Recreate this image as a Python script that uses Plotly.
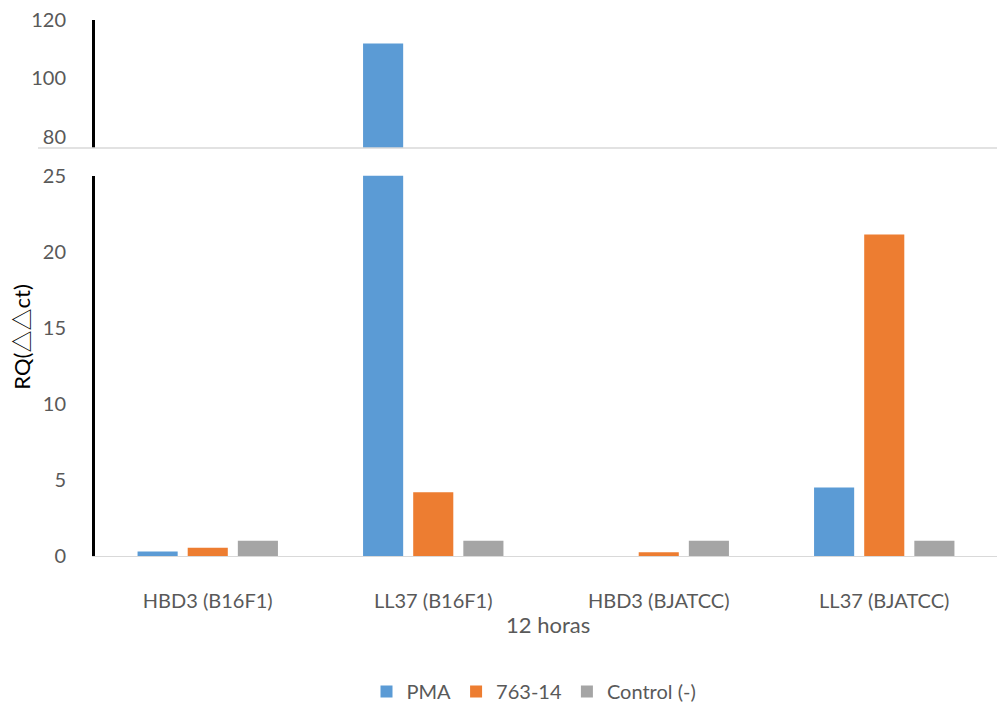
import plotly.graph_objects as go

categories = ["HBD3 (B16F1)", "LL37 (B16F1)", "HBD3 (BJATCC)", "LL37 (BJATCC)"]
pma = [0.3, 112.0, 0.0, 4.5]
c763 = [0.55, 4.2, 0.25, 21.15]
control = [1.0, 1.0, 1.0, 1.0]

series = [("PMA", pma, "#5B9BD5"), ("763-14", c763, "#ED7D31"), ("Control (-)", control, "#A5A5A5")]

W, H = 997, 711
ML, MR, MT, MB = 95, 0, 20, 151
ph = H - MT - MB

def py(pix):
    return (H - MB - pix) / ph

FONT = "Lato"
GRAY = "#595959"

fig = go.Figure()
for name, vals, col in series:
    fig.add_trace(go.Bar(x=categories, y=vals, name=name, marker=dict(color=col, line=dict(width=0)),
                         xaxis="x", yaxis="y", showlegend=True))
for name, vals, col in series:
    fig.add_trace(go.Bar(x=categories, y=vals, name=name, marker=dict(color=col, line=dict(width=0)),
                         xaxis="x2", yaxis="y2", showlegend=False))

fig.update_layout(
    width=W, height=H,
    margin=dict(l=ML, r=MR, t=MT, b=MB),
    paper_bgcolor="white", plot_bgcolor="white",
    barmode="group", bargap=0.333, bargroupgap=0.2,
    font=dict(family=FONT, color=GRAY, size=19),
    xaxis=dict(domain=[0, 1], anchor="y", showline=True, linecolor="#D9D9D9", linewidth=1,
               showgrid=False, zeroline=False, ticks="", tickfont=dict(size=20, color=GRAY, family=FONT),
               ticklabelstandoff=27),
    xaxis2=dict(domain=[0, 1], anchor="y2", matches="x", showline=False, showgrid=False,
                zeroline=False, showticklabels=False, ticks=""),
    yaxis=dict(domain=[0, py(177)], range=[0, 25], tickvals=[0, 5, 10, 15, 20, 25],
               showline=True, linecolor="black", linewidth=3, showgrid=False, zeroline=False,
               ticks="", tickfont=dict(size=20, color=GRAY, family=FONT), ticklabelstandoff=22),
    yaxis2=dict(domain=[py(149), 1], range=[76.2, 120], tickvals=[80, 100, 120],
                showline=True, linecolor="black", linewidth=3, showgrid=False, zeroline=False,
                ticks="", tickfont=dict(size=20, color=GRAY, family=FONT), ticklabelstandoff=22),
    legend=dict(orientation="h", x=(534 - ML) / (W - ML - MR), xanchor="center", y=py(697), yanchor="middle",
                font=dict(size=20, color=GRAY, family=FONT), itemwidth=30, traceorder="normal"),
    shapes=[dict(type="line", xref="paper", yref="paper", x0=(38 - ML) / (W - ML - MR), x1=1,
                 y0=py(149), y1=py(149), line=dict(color="#D9D9D9", width=1.5))],
    annotations=[
        dict(text="12 horas", xref="paper", yref="paper", x=(548 - ML) / (W - ML - MR), y=py(629), showarrow=False,
             xanchor="center", yanchor="middle", font=dict(size=22, color=GRAY, family=FONT)),
        dict(text="RQ(△△ct)", xref="paper", yref="paper", x=(22 - ML) / (W - ML - MR), y=py(340),
             showarrow=False, textangle=-90, xanchor="center", yanchor="middle",
             font=dict(size=22, color="black", family="Lato, 'Noto Sans CJK SC'")),
    ],
)

fig.write_html("out.html")
